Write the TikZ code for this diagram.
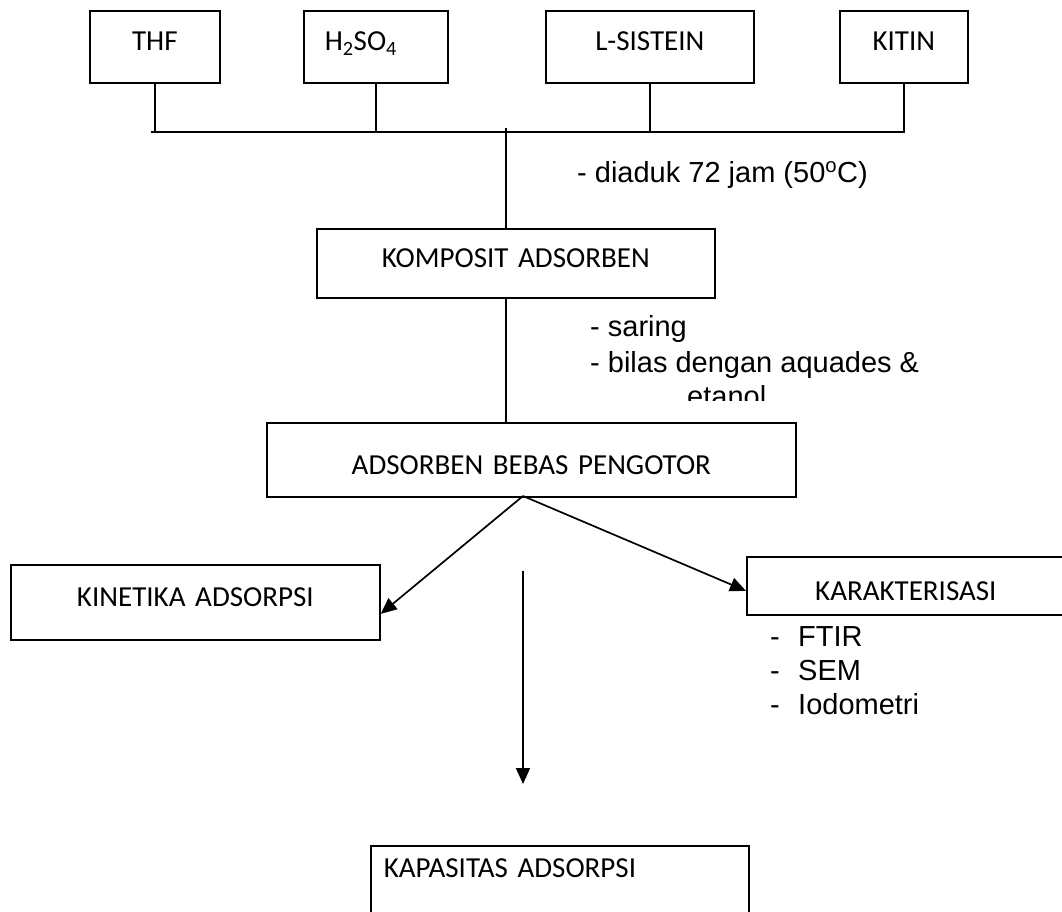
\documentclass[tikz,border=0pt]{standalone}
\usepackage{fontspec}
\setmainfont{Carlito}
\newfontfamily\arialf{Liberation Sans}
\usetikzlibrary{arrows.meta}
\begin{document}
\begin{tikzpicture}[x=1pt,y=-1pt,
  box/.style={draw, line width=1.7pt, inner sep=0pt, anchor=north west, align=center,
    font=\fontsize{29}{34}\selectfont},
  note/.style={inner sep=0pt, anchor=base west, font=\arialf\fontsize{29}{34}\selectfont},
  conn/.style={line width=1.7pt},
  arr/.style={conn, -{Triangle[length=16pt,width=14pt]}}]
\useasboundingbox (0,0) rectangle (1062,911);
\clip (0,0) rectangle (1062,911);
% top row
\node[box, text width=130pt, text height=40pt, text depth=32pt] (thf) at (89,10) {THF};
\node[box, inner xsep=21pt, text width=102pt, align=left, text height=40pt, text depth=32pt] (h2so4) at (303,10) {H\textsubscript{2}SO\textsubscript{4}};
\node[box, text width=208pt, text height=40pt, text depth=32pt] (lsis) at (545,10) {L-SISTEIN};
\node[box, text width=128pt, text height=40pt, text depth=32pt] (kitin) at (839,10) {KITIN};
% middle boxes
\node[box, text width=398pt, text height=39pt, text depth=30pt] (komposit) at (316,228) {KOMPOSIT ADSORBEN};
\node[box, text width=529pt, text height=52pt, text depth=22pt] (adsorben) at (266,422) {ADSORBEN BEBAS PENGOTOR};
\node[box, text width=369pt, text height=42pt, text depth=33pt] (kinetika) at (10,564) {KINETIKA ADSORPSI};
\node[box, text width=318pt, text height=44pt, text depth=14pt] (karak) at (746,556) {KARAKTERISASI};
\node[box, inner xsep=13pt, text width=352pt, align=left, text height=32pt, text depth=70pt] (kapasitas) at (370,845) {KAPASITAS ADSORPSI};
% bus
\coordinate (busL) at (151,132);
\coordinate (busR) at (905,132);
\draw[conn] (busL) -- (busR);
\foreach \n in {thf,h2so4,lsis,kitin} \draw[conn] (\n.south) -- (\n.south |- busL);
% central line
\coordinate (ctop) at (506,128);
\draw[conn] (ctop) -- (ctop |- komposit.north);
\draw[conn] (ctop |- komposit.south) -- (ctop |- adsorben.north);
% split arrows
\coordinate (split) at (523,496);
\draw[arr] (split) -- ([yshift=-11.5pt]kinetika.east);
\draw[arr] (split) -- ([yshift=-5pt]karak.west);
\coordinate (cs) at (523,571);
\coordinate (ce) at (523,784);
\draw[arr] (cs) -- (ce);
% notes
\node[note] (n1) at (577,182) {- diaduk 72 jam (50\textsuperscript{o}C)};
\begin{scope}
\clip (560,300) rectangle (1062,400);
\node[note] (n2) at (590,336) {- saring};
\node[note] (n3) at (590,372) {- bilas dengan aquades \&};
\node[note] (n4) at (687,406) {etanol};
\end{scope}
\node[note] (f1) at (770,646) {\makebox[28pt][l]{-}FTIR};
\node[note] (f2) at (770,680) {\makebox[28pt][l]{-}SEM};
\node[note] (f3) at (770,714) {\makebox[28pt][l]{-}Iodometri};
\end{tikzpicture}
\end{document}
